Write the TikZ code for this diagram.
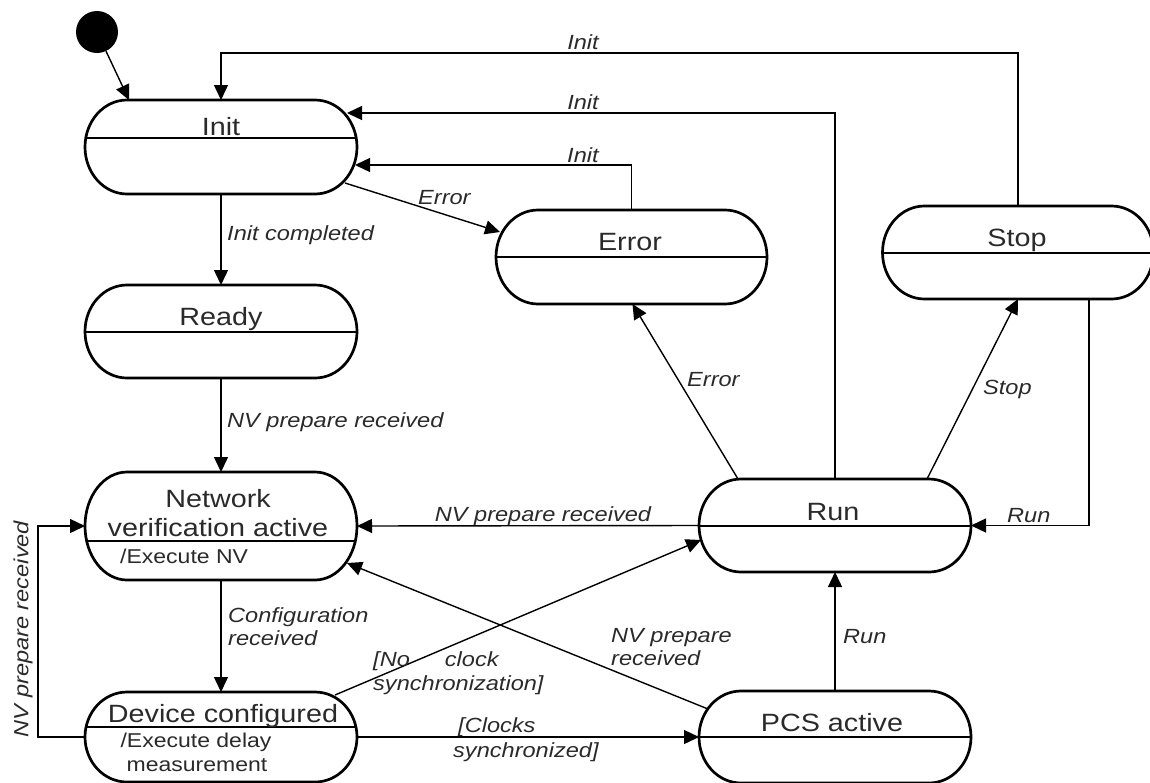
\documentclass[tikz,border=0pt]{standalone}
\usepackage{fontspec}
\setmainfont{Liberation Sans}[FakeStretch=1.15]
\usetikzlibrary{arrows.meta,calc}
\definecolor{ink}{HTML}{2A2A2A}

\tikzset{
  stbox/.style={rectangle, inner sep=0pt, outer sep=0pt, minimum width=272pt},
  outline/.style={line width=2.7pt, black},
  divider/.style={line width=2.7pt, black},
  conn/.style={line width=1.4pt, black, -{Triangle[length=15pt,width=14pt]}},
  stname/.style={font=\fontsize{25}{29}\selectfont, text=ink, inner sep=0pt, anchor=base},
  act/.style={font=\fontsize{20}{24}\selectfont, text=ink, inner sep=0pt, anchor=base},
  lbl/.style={font=\fontsize{20.5}{24}\selectfont\itshape, text=ink, inner sep=0pt, anchor=base west},
}

% state outline with elliptic ends (#2 = x radius, #3 = y radius)
% and a divider line #4 below the centre
\newcommand\drawstate[4]{%
  \draw[outline] ($(#1.north west)+(#2,0)$) -- ($(#1.north east)+(-#2,0)$)
    arc[start angle=90, end angle=-90, x radius=#2pt, y radius=#3pt]
    -- ($(#1.south west)+(#2,0)$)
    arc[start angle=270, end angle=90, x radius=#2pt, y radius=#3pt] -- cycle;
  \draw[divider] ($(#1.west)+({#2-#2*sqrt(1-(#4/#3)^2)},#4)$)
    -- ($(#1.east)+({-#2+#2*sqrt(1-(#4/#3)^2)},#4)$);
}

\begin{document}
\begin{tikzpicture}[x=1pt,y=-1pt]
\useasboundingbox (0,0) rectangle (1150,782);
\clip (0,0) rectangle (1150,782);

% initial pseudo-state
\node[circle, fill=black, minimum size=42pt, inner sep=0pt] (start) at (97,32) {};

% states
\node[stbox, minimum height=94pt] (init) at (221,147) {};
\node[stbox, minimum height=93pt] (ready) at (221,331.5) {};
\node[stbox, minimum height=108pt] (nv) at (221,526) {};
\node[stbox, minimum height=90pt] (dev) at (221,737) {};
\node[stbox, minimum width=271pt, minimum height=94pt] (err) at (631.5,257) {};
\node[stbox, minimum width=271pt, minimum height=93pt] (stop) at (1018,252.5) {};
\node[stbox, minimum height=93pt] (run) at (835,525.5) {};
\node[stbox, minimum height=92pt] (pcs) at (835,737) {};

\drawstate{init}{42}{47}{-9}
\drawstate{ready}{42}{46.5}{0.5}
\drawstate{nv}{42}{54}{15}
\drawstate{dev}{42}{45}{-10}
\drawstate{err}{42}{47}{0}
\drawstate{stop}{42}{46.5}{0.5}
\drawstate{run}{42}{46.5}{0.5}
\drawstate{pcs}{42}{46}{0}

% state names and entry actions
\node[stname] (tinit) at (221,135) {Init};
\node[stname] (tready) at (221,325) {Ready};
\node[stname] (tnv1) at (218,507) {Network};
\node[stname] (tnv2) at (218,536) {verification active};
\node[act, anchor=base west] (anv) at (120,563) {/Execute NV};
\node[stname] (tdev) at (223,722) {Device configured};
\node[act] (adev1) at (196,747) {/Execute delay};
\node[act] (adev2) at (197,771) {measurement};
\node[stname] (terr) at (630,250) {Error};
\node[stname] (tstop) at (1017,246) {Stop};
\node[stname] (trun) at (833,520) {Run};
\node[stname] (tpcs) at (832,731) {PCS active};

% transitions
\draw[conn] (start) -- ($(init.north)+(-92,0)$);
\draw[conn] (init.south) -- (ready.north);
\draw[conn] (ready.south) -- (nv.north);
\draw[conn] (nv.south) -- (dev.north);
\draw[conn] ($(init.east)+(-12,36)$) -- ($(err.west)+(4,-25)$);
\draw[conn] (err.north) |- ($(init.east)+(-2,18)$);
\draw[conn] (run.north) |- ($(init.east)+(-10,-34)$);
\draw[conn] (stop.north) -- ++(0,-153) -| (init.north);
\draw[conn] ($(run.north)+(-97,0)$) -- ($(err.south)+(1,0)$);
\draw[conn] ($(run.north)+(92,0)$) -- (stop.south);
\draw[conn] ($(stop.south)+(71,0)$) |- (run.east);
\draw[conn] (run.west) -- (nv.east);
\draw[conn] (dev.west) -- ++(-47,0) |- (nv.west);
\draw[conn] (dev.east) -- (pcs.west);
\draw[conn] ($(dev.east)+(-22,-42)$) -- ($(run.west)+(2,14.5)$);
\draw[conn] ($(pcs.west)+(9,-28)$) -- ($(nv.east)+(-10,37)$);
\draw[conn] (pcs.north) -- (run.south);

% transition labels
\node[lbl, anchor=base] (l1) at (583,49) {Init};
\node[lbl, anchor=base] (l2) at (583,109) {Init};
\node[lbl] (l3) at (567,162) {Init};
\node[lbl] (l4) at (418,204) {Error};
\node[lbl] (l5) at (227,240) {Init completed};
\node[lbl] (l6) at (227,427) {NV prepare received};
\node[lbl, anchor=base] (l7) at (543,521) {NV prepare received};
\node[lbl] (l8) at (1007,522) {Run};
\node[lbl] (l9) at (687,386) {Error};
\node[lbl] (l10) at (983,394) {Stop};
\node[lbl] (l11) at (228,622) {Configuration};
\node[lbl] (l12) at (228,645) {received};
\node[lbl] (l13) at (373,666) {[No\hspace{35pt}clock};
\node[lbl] (l14) at (373,690) {synchronization]};
\node[lbl] (l15) at (458,732) {[Clocks};
\node[lbl] (l16) at (453,757) {synchronized]};
\node[lbl] (l17) at (611,642) {NV prepare};
\node[lbl] (l18) at (611,665) {received};
\node[lbl] (l19) at (843,643) {Run};
\node[lbl, anchor=center, rotate=90] (l20) at (23,629) {NV prepare received};
\end{tikzpicture}
\end{document}
